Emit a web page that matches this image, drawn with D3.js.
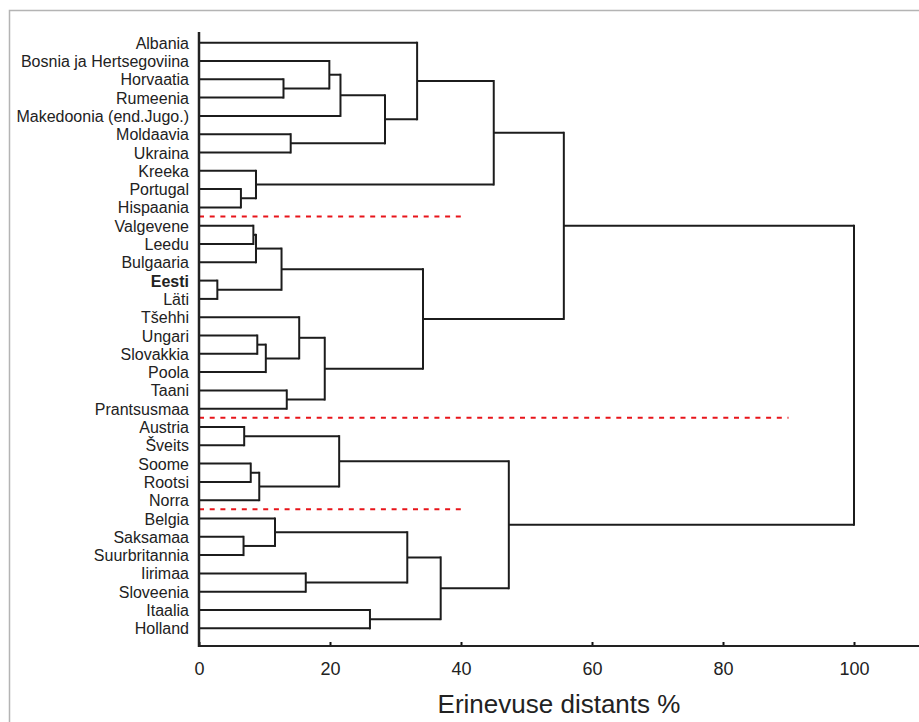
<!DOCTYPE html>
<html>
<head>
<meta charset="utf-8">
<script src="https://cdn.jsdelivr.net/npm/d3@7"></script>
<style>
  html, body { margin: 0; padding: 0; background: #fff; }
  svg { display: block; font-family: "Liberation Sans", Arial, sans-serif; }
</style>
</head>
<body>
<svg id="chart" width="919" height="722"></svg>
<script>
// Leaves in display order (top to bottom)
const leaves = [
  "Albania", "Bosnia ja Hertsegoviina", "Horvaatia", "Rumeenia",
  "Makedoonia (end.Jugo.)", "Moldaavia", "Ukraina", "Kreeka", "Portugal",
  "Hispaania", "Valgevene", "Leedu", "Bulgaaria", "Eesti", "Läti", "Tšehhi",
  "Ungari", "Slovakkia", "Poola", "Taani", "Prantsusmaa", "Austria", "Šveits",
  "Soome", "Rootsi", "Norra", "Belgia", "Saksamaa", "Suurbritannia",
  "Iirimaa", "Sloveenia", "Itaalia", "Holland"
];
const boldLeaves = ["Eesti"];

// Merge steps: [first child, second child, distance %]; "m#" refers to an earlier merge
const merges = [
  ["Horvaatia", "Rumeenia", 12.9],               // m0
  ["Bosnia ja Hertsegoviina", "m0", 19.9],       // m1
  ["m1", "Makedoonia (end.Jugo.)", 21.6],        // m2
  ["Moldaavia", "Ukraina", 14.0],                // m3
  ["m2", "m3", 28.4],                            // m4
  ["Albania", "m4", 33.3],                       // m5
  ["Portugal", "Hispaania", 6.4],                // m6
  ["Kreeka", "m6", 8.7],                         // m7
  ["m5", "m7", 45.0],                            // m8
  ["Valgevene", "Leedu", 8.3],                   // m9
  ["m9", "Bulgaaria", 8.7],                      // m10
  ["Eesti", "Läti", 2.8],                        // m11
  ["m10", "m11", 12.6],                          // m12
  ["Ungari", "Slovakkia", 8.9],                  // m13
  ["m13", "Poola", 10.2],                        // m14
  ["Tšehhi", "m14", 15.3],                       // m15
  ["Taani", "Prantsusmaa", 13.4],                // m16
  ["m15", "m16", 19.2],                          // m17
  ["m12", "m17", 34.2],                          // m18
  ["m8", "m18", 55.7],                           // m19
  ["Austria", "Šveits", 6.9],                    // m20
  ["Soome", "Rootsi", 7.9],                      // m21
  ["m21", "Norra", 9.2],                         // m22
  ["m20", "m22", 21.4],                          // m23
  ["Saksamaa", "Suurbritannia", 6.8],            // m24
  ["Belgia", "m24", 11.6],                       // m25
  ["Iirimaa", "Sloveenia", 16.3],                // m26
  ["m25", "m26", 31.8],                          // m27
  ["Itaalia", "Holland", 26.1],                  // m28
  ["m27", "m28", 36.9],                          // m29
  ["m23", "m29", 47.3],                          // m30
  ["m19", "m30", 100.0]                          // m31
];

// Red dashed cut lines: drawn below the named leaf, out to the given distance
const cutAfter = ["Hispaania", "Prantsusmaa", "Norra"];
const cutTo = [40, 90, 40];

const tickValues = [0, 20, 40, 60, 80, 100];
const axisTitle = "Erinevuse distants %";

// ---- build hierarchy ----
const nodes = {};
leaves.forEach(n => nodes[n] = { name: n, height: 0 });
merges.forEach((m, i) => {
  nodes["m" + i] = { name: "m" + i, height: m[2], children: [nodes[m[0]], nodes[m[1]]] };
});
const root = d3.hierarchy(nodes["m" + (merges.length - 1)]);

const svg = d3.select("#chart");

// frame
svg.append("rect")
  .attr("x", 9.5).attr("y", 10.5)
  .attr("width", 960).attr("height", 760)
  .attr("fill", "none").attr("stroke", "#b4b4b4").attr("stroke-width", 1.5);

const x = d3.scaleLinear().domain([0, 100]).range([199, 854]);
const y = d3.scalePoint().domain(leaves).range([42.7, 628.3]);
const step = y.step();
const axisY = 646;

// positions
root.eachAfter(d => {
  d.px = x(d.data.height);
  if (d.children) {
    d.py = (d.children[0].py + d.children[1].py) / 2;
  } else {
    d.py = y(d.data.name);
  }
});

const g = svg.append("g");
const lineColor = "#1c1c1c";

// horizontal segments from each child to its parent
root.descendants().filter(d => d.parent).forEach(d => {
  g.append("line")
    .attr("x1", d.px).attr("x2", d.parent.px)
    .attr("y1", d.py).attr("y2", d.py)
    .attr("stroke", lineColor).attr("stroke-width", 2);
});
// vertical segments
root.descendants().filter(d => d.children).forEach(d => {
  g.append("line")
    .attr("x1", d.px).attr("x2", d.px)
    .attr("y1", d.children[0].py - 1).attr("y2", d.children[1].py + 1)
    .attr("stroke", lineColor).attr("stroke-width", 2);
});

// red dashed cut lines
cutAfter.forEach((name, i) => {
  const idx = leaves.indexOf(name);
  const yy = (y(leaves[idx]) + y(leaves[idx + 1])) / 2;
  svg.append("line")
    .attr("x1", x(0)).attr("x2", x(cutTo[i]))
    .attr("y1", yy).attr("y2", yy)
    .attr("stroke", "#e8141a").attr("stroke-width", 2)
    .attr("stroke-dasharray", "5,5.7");
});

// leaf labels
svg.append("g").selectAll("text")
  .data(leaves)
  .join("text")
  .attr("x", x(0) - 10)
  .attr("y", d => y(d))
  .attr("dy", "0.38em")
  .attr("text-anchor", "end")
  .attr("font-size", 16)
  .attr("font-weight", d => boldLeaves.includes(d) ? "bold" : "normal")
  .attr("fill", "#222")
  .text(d => d);

// x axis
const xAxisScale = d3.scaleLinear().domain([0, 100]).range([199, 854]);
const axisG = svg.append("g").attr("transform", `translate(0,${axisY})`)
  .call(d3.axisBottom(xAxisScale).tickValues(tickValues).tickSize(0).tickPadding(0).tickFormat(d3.format("d")));
axisG.select(".domain").remove();
axisG.append("line").attr("x1", 198).attr("x2", 925).attr("y1", 0).attr("y2", 0)
  .attr("stroke", "#222").attr("stroke-width", 2);
axisG.selectAll(".tick line").remove();
axisG.selectAll(".tick").append("line")
  .attr("y1", 0).attr("y2", -4).attr("stroke", "#111").attr("stroke-width", 2);
axisG.selectAll(".tick text")
  .attr("y", 29).attr("dy", null)
  .attr("font-size", 18).attr("font-family", "'Liberation Sans', Arial, sans-serif")
  .attr("fill", "#222");

// left axis line
svg.append("line")
  .attr("x1", x(0)).attr("x2", x(0))
  .attr("y1", 32).attr("y2", axisY + 1)
  .attr("stroke", "#222").attr("stroke-width", 2.5);

// axis title
svg.append("text")
  .attr("x", 559).attr("y", 713)
  .attr("text-anchor", "middle")
  .attr("font-size", 26)
  .attr("fill", "#222")
  .text(axisTitle);
</script>
</body>
</html>
